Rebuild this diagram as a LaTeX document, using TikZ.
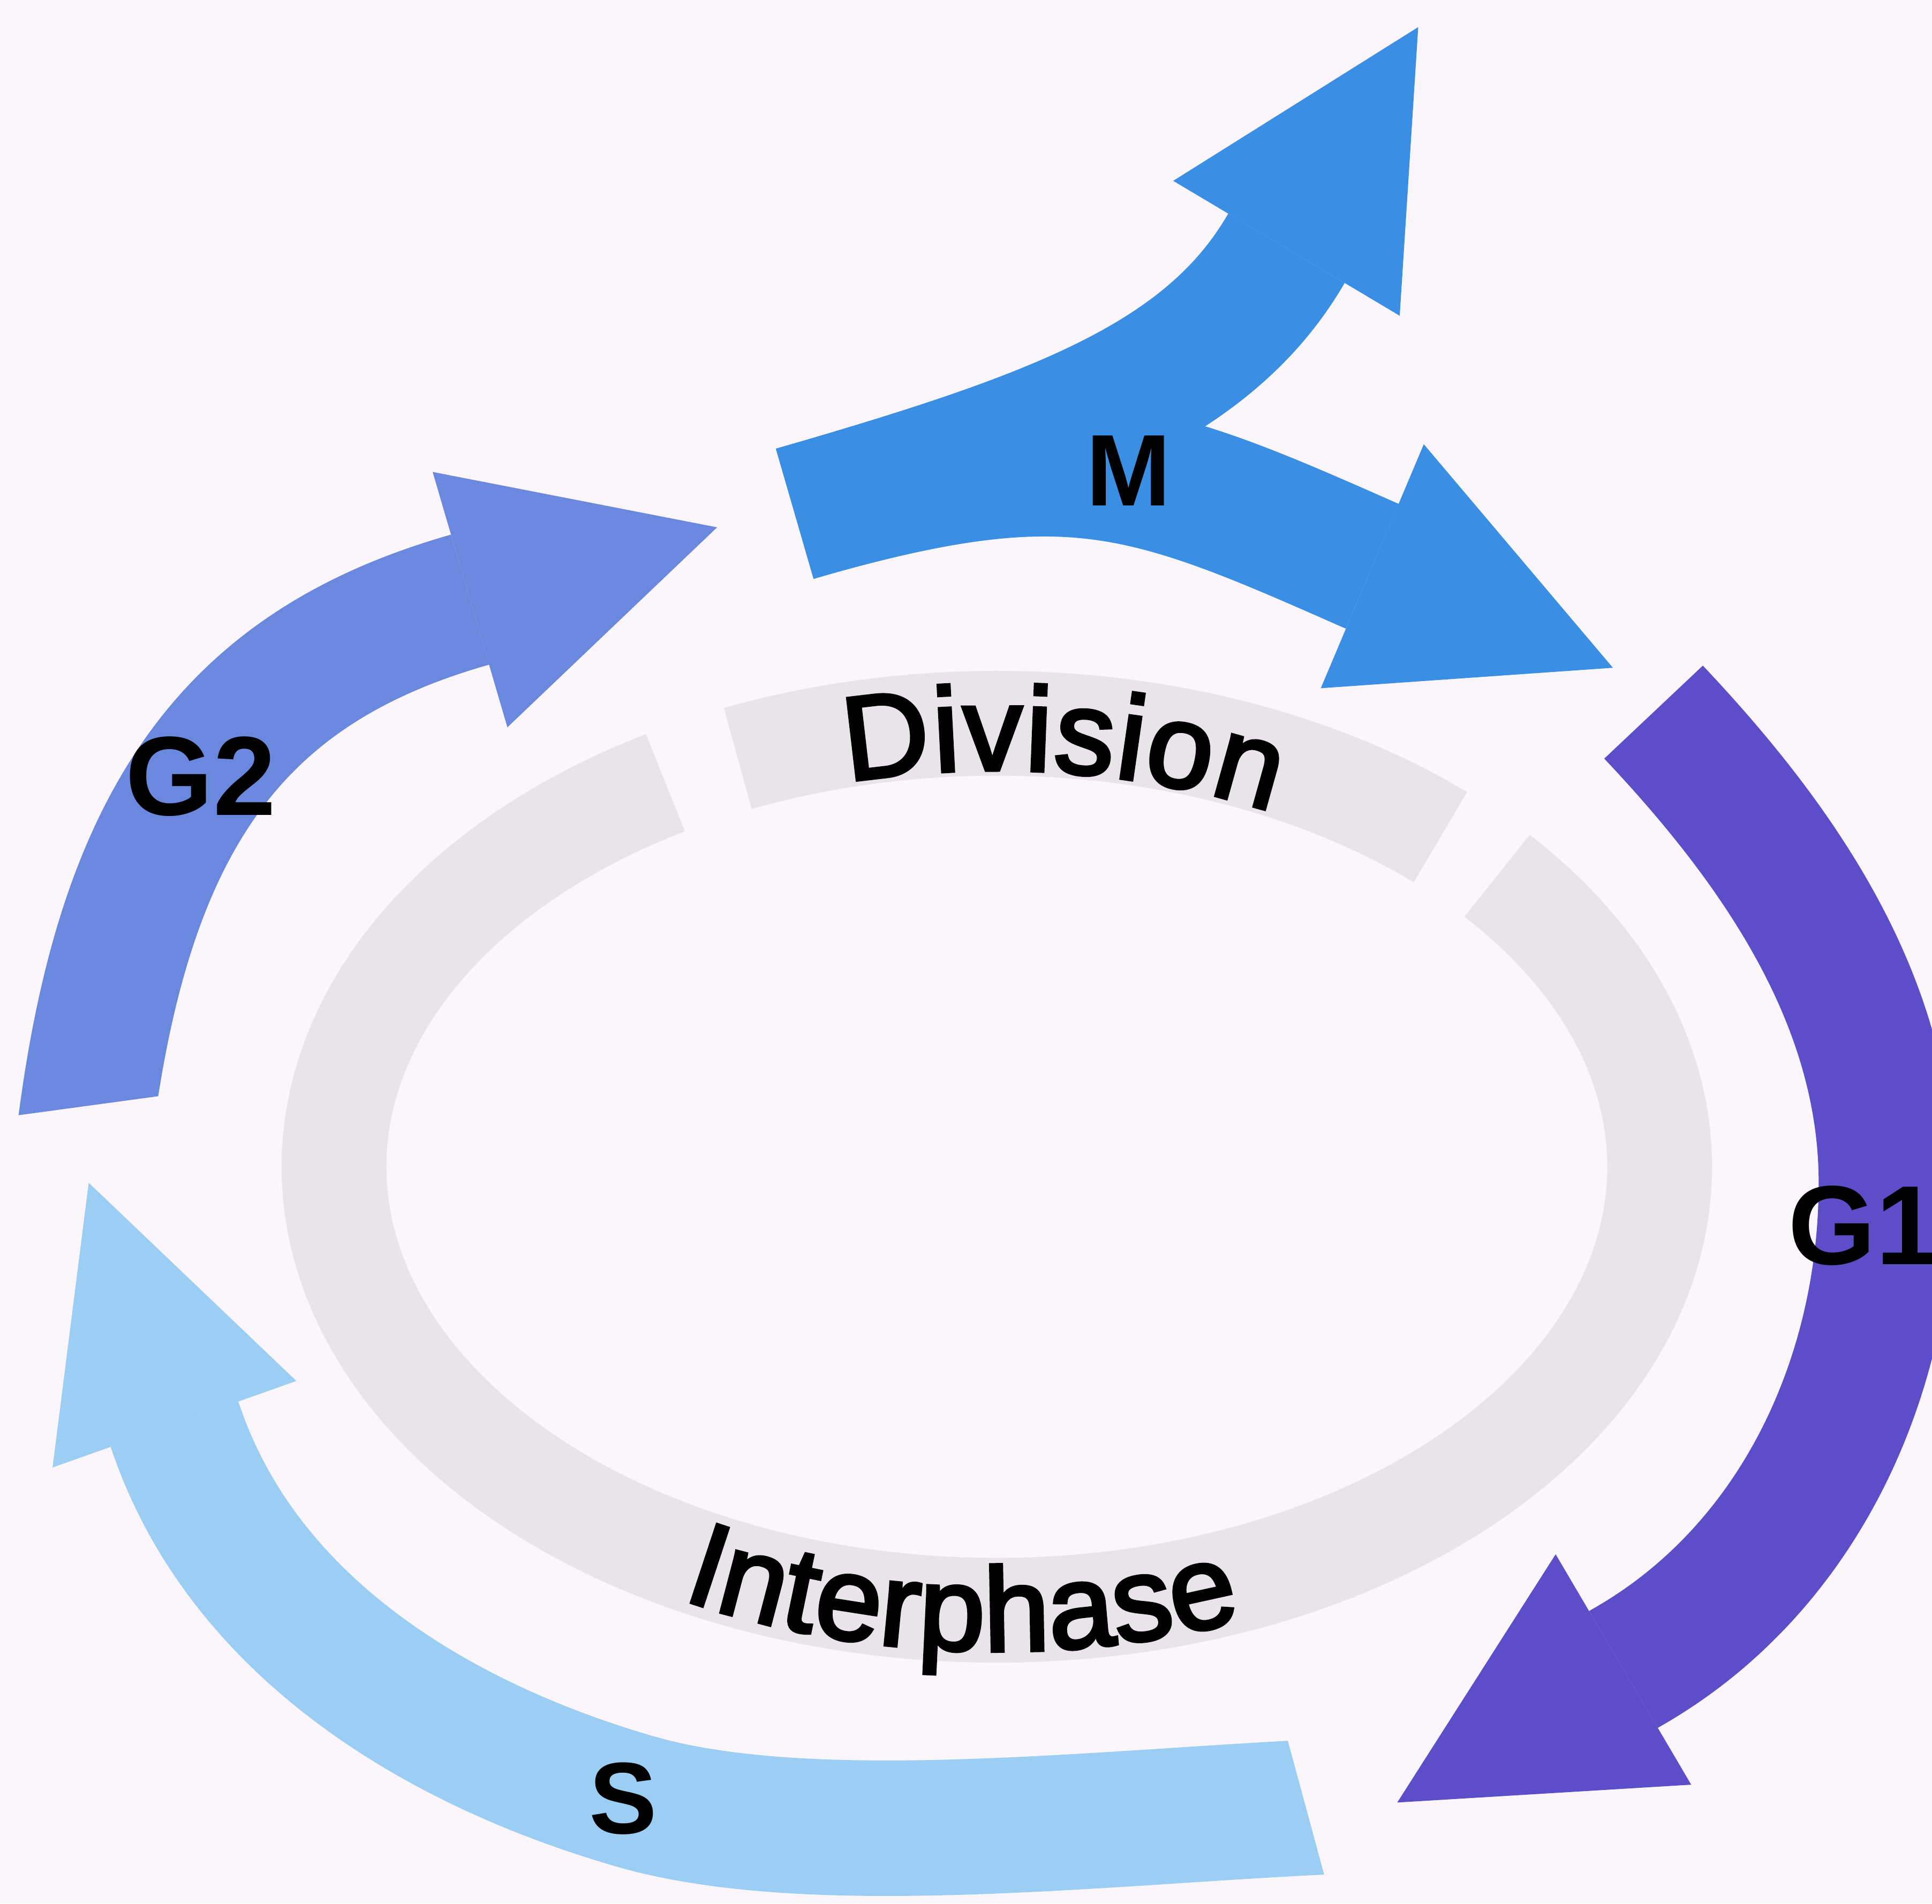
\documentclass[tikz,border=0pt]{standalone}
\usepackage{fontspec}
\setmainfont{Liberation Sans}
\newfontfamily\ringfont{Liberation Sans}[FakeBold=3]
\usetikzlibrary{arrows.meta,decorations.text}

\definecolor{paper}{RGB}{250,246,251}
\definecolor{ringgray}{RGB}{233,227,234}
\definecolor{mblue}{RGB}{58,143,228}
\definecolor{gtwoblue}{RGB}{106,136,222}
\definecolor{gonepurple}{RGB}{92,77,200}
\definecolor{sblue}{RGB}{156,206,243}

\begin{document}
\begin{tikzpicture}[
  x=0.02cm, y=-0.02cm,
  band/.style={line width=2.2cm, line cap=butt},
  ringband/.style={draw=ringgray, line width=1.7cm, line cap=butt},
  head/.style 2 args={-{Triangle[width=#1, length=#2, line width=0pt]}},
  phase/.style={font=\bfseries\fontsize{52}{60}\selectfont, inner sep=0pt},
  small phase/.style={phase, font=\bfseries\fontsize{47}{54}\selectfont},
  ringtext/.style={decorate, decoration={text along path, text align=fit to path,
    text={|\ringfont\fontsize{55}{62}\selectfont|#1}}}
]

\useasboundingbox (0,0) rectangle (1568,1545);
\fill[paper] (0,0) rectangle (1568,1545);

% inner ring: division and interphase
\draw[ringband] plot[domain=247:312, samples=60, variable=\t]
  ({809+538*cos(\t)}, {947+360*sin(\t)});
\draw[ringband] plot[domain=319:600, samples=160, variable=\t]
  ({809+538*cos(\t)}, {947+360*sin(\t)});

\path[ringtext=Division] plot[domain=256:296.5, samples=60, variable=\t]
  ({809+500*cos(\t)}, {947+322*sin(\t)});
\path[ringtext=Interphase] plot[domain=0:47.3, samples=60, variable=\t]
  ({809+568*cos(116.8-\t)}, {947+393*sin(116.8-\t)});

% arrow ends
\coordinate (g2-tail) at (68,925);
\coordinate (g2-base) at (377,488);
\coordinate (g2-tip)  at (582,428);
\coordinate (m-tail)  at (645,417);
\coordinate (m-ubase) at (1042,205);
\coordinate (m-utip)  at (1151,22);
\coordinate (m-dbase) at (1110,458);
\coordinate (m-dtip)  at (1309,542);
\coordinate (g1-tail) at (1342,578);
\coordinate (g1-mid)  at (1531,960);
\coordinate (g1-base) at (1321,1353);
\coordinate (g1-tip)  at (1134,1463);
\coordinate (s-tail)  at (1085,1466);
\coordinate (s-mid)   at (515,1462);
\coordinate (s-base)  at (143,1160);
\coordinate (s-tip)   at (72,960);

% phase arrows (G2 and S ends are cut at a slant)
\begin{scope}
  \clip (-50,0) -- (700,0) -- (700,700) -- (200,880) -- (-50,914) -- cycle;
  \draw[band, gtwoblue, head={4.32cm}{4.18cm}]
    (g2-tail) .. controls (99,670) and (185,544) .. (g2-base) -- (g2-tip);
\end{scope}
\draw[band, mblue, head={4.28cm}{4.18cm}]
  (m-tail) .. controls (852,357) and (978,312) .. (m-ubase) -- (m-utip);
\draw[band, mblue, head={4.3cm}{4.24cm}]
  (m-tail) .. controls (866,353) and (927,377) .. (m-dbase) -- (m-dtip);
\draw[band, gonepurple, head={4.34cm}{4.26cm}]
  (g1-tail) .. controls (1444,686) and (1531,812) .. (g1-mid)
  .. controls (1531,1119) and (1459,1274) .. (g1-base) -- (g1-tip);
\begin{scope}
  \clip (-50,800) -- (879,800) -- (1100,1615) -- (-50,1615) -- cycle;
  \draw[band, sblue, head={4.2cm}{4.16cm}]
    (s-tail) .. controls (900,1474) and (659,1504) .. (s-mid)
    .. controls (353,1415) and (198,1320) .. (s-base) -- (s-tip);
\end{scope}

% labels
\node[phase] (g2) at (163,630) {G2};
\node[small phase] (m) at (916,382) {M};
\node[phase, anchor=west] (g1) at (1451,995) {G1};
\node[small phase] (s) at (506,1460) {S};

\end{tikzpicture}
\end{document}
